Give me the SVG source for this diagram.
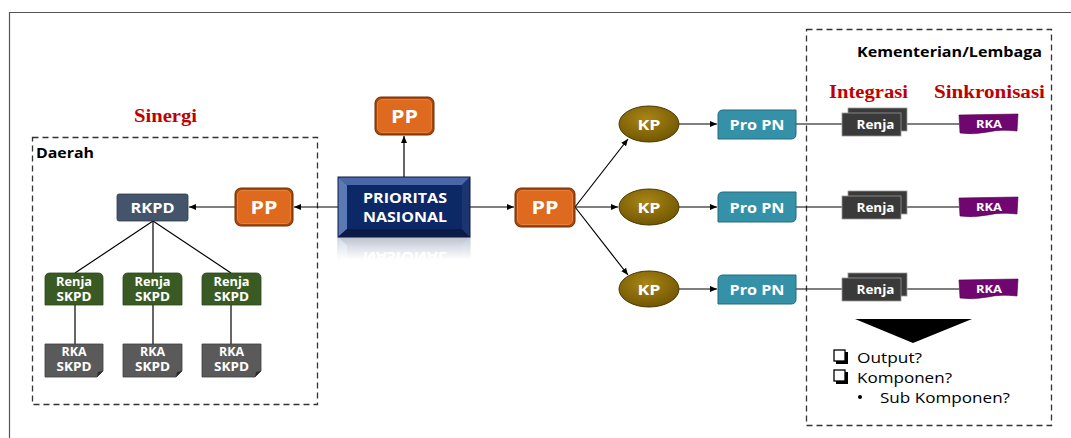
<svg xmlns="http://www.w3.org/2000/svg" xmlns:xlink="http://www.w3.org/1999/xlink" width="1071" height="438" viewBox="0 0 1071 438">
<style>
.lbl{font-family:"Open Sans","DejaVu Sans",sans-serif;font-weight:bold;fill:#fff;text-anchor:middle}
.red{font-family:"Liberation Serif","DejaVu Serif",serif;font-weight:bold;fill:#c00000}
.blk{font-family:"Open Sans","DejaVu Sans",sans-serif;fill:#000}
.dash{fill:none;stroke:#333;stroke-width:1.3;stroke-dasharray:6,4}
.ln{stroke:#000;stroke-width:1.2;fill:none}
.arr{stroke:#000;stroke-width:1.2;fill:none;marker-end:url(#ah)}
.pp-o{fill:#a8470c;stroke:#6e2e05;stroke-width:1}
.pp-i{fill:#dd6a1f;stroke:#f08a45;stroke-width:0.8}
.renja{fill:#3a5a24;stroke:#2b441a;stroke-width:0.8}
.rkas{fill:#5a5a5a;stroke:#3c3c3c;stroke-width:0.8}
.kp{fill:url(#kpg);stroke:#4a3a00;stroke-width:1}
.pro{fill:#3591a8;stroke:#256a7c;stroke-width:1}
.rj{fill:#3a3a3a;stroke:#9a9a9a;stroke-width:0.8}
.rka{fill:#70066f;stroke:#4a004a;stroke-width:0.6}
.cb{fill:#fff;stroke:#000;stroke-width:1.3}
</style>
<defs>
<marker id="ah" markerWidth="8" markerHeight="8" refX="7" refY="4" orient="auto" markerUnits="userSpaceOnUse">
<path d="M0,1 L7,4 L0,7 Z" fill="#000"/>
</marker>
<radialGradient id="kpg" cx="0.45" cy="0.35" r="0.7">
<stop offset="0" stop-color="#a88516"/>
<stop offset="1" stop-color="#6e5400"/>
</radialGradient>
<linearGradient id="fade" gradientUnits="userSpaceOnUse" x1="0" y1="237" x2="0" y2="260">
<stop offset="0" stop-color="#fff" stop-opacity="0.45"/>
<stop offset="1" stop-color="#fff" stop-opacity="0"/>
</linearGradient>
<mask id="reflmask" maskUnits="userSpaceOnUse" x="330" y="237" width="150" height="25">
<rect x="330" y="237" width="150" height="25" fill="url(#fade)"/>
</mask>
</defs>
<rect width="1071" height="438" fill="#fff"/>
<path d="M9.5,438 V12.5 H1071" fill="none" stroke="#555" stroke-width="1.2"/>

<g id="daerah">
<rect class="dash" x="32.5" y="137.5" width="285" height="267"/>
<text class="blk" x="36" y="158" font-size="14.5" font-weight="bold" textLength="58" lengthAdjust="spacingAndGlyphs">Daerah</text>
<text class="red" x="134" y="122" font-size="18" textLength="63" lengthAdjust="spacingAndGlyphs">Sinergi</text>
</g>
<g id="kl">
<rect class="dash" x="806.5" y="29.5" width="245" height="396"/>
<text class="blk" x="857" y="57" font-size="15" font-weight="bold" textLength="185" lengthAdjust="spacingAndGlyphs">Kementerian/Lembaga</text>
<text class="red" x="829" y="98" font-size="18" textLength="79" lengthAdjust="spacingAndGlyphs">Integrasi</text>
<text class="red" x="934" y="98" font-size="18" textLength="111" lengthAdjust="spacingAndGlyphs">Sinkronisasi</text>
</g>

<g id="connectors">
<line class="arr" x1="340" y1="207" x2="294" y2="207"/>
<line class="arr" x1="235" y1="207" x2="189" y2="207"/>
<line class="arr" x1="404" y1="177" x2="404" y2="136"/>
<line class="arr" x1="470" y1="207" x2="514" y2="207"/>
<line class="arr" x1="575" y1="207" x2="628" y2="139"/>
<line class="arr" x1="575" y1="207" x2="618" y2="207"/>
<line class="arr" x1="575" y1="207" x2="628" y2="275"/>
<line class="arr" x1="679" y1="124" x2="717" y2="124"/>
<line class="arr" x1="679" y1="207" x2="717" y2="207"/>
<line class="arr" x1="679" y1="289" x2="717" y2="289"/>
<line class="ln" x1="153" y1="221" x2="75" y2="273"/>
<line class="ln" x1="153" y1="221" x2="153" y2="273"/>
<line class="ln" x1="153" y1="221" x2="231" y2="273"/>
<line class="ln" x1="75" y1="305" x2="75" y2="344"/>
<line class="ln" x1="153" y1="305" x2="153" y2="344"/>
<line class="ln" x1="231" y1="305" x2="231" y2="344"/>
<line class="ln" x1="796" y1="124" x2="842" y2="124"/>
<line class="ln" x1="796" y1="207" x2="842" y2="207"/>
<line class="ln" x1="796" y1="289" x2="842" y2="289"/>
<line class="ln" x1="901" y1="124" x2="959" y2="124"/>
<line class="ln" x1="901" y1="207" x2="959" y2="207"/>
<line class="ln" x1="901" y1="289" x2="959" y2="289"/>
</g>

<g id="pn">
<g id="pn-box">
<rect x="338" y="177" width="132" height="60" fill="#14306e"/>
<polygon points="338,177 470,177 462,185 347,185" fill="#4a68a8"/>
<polygon points="338,177 347,185 347,229 338,237" fill="#5b79b5"/>
<polygon points="338,237 347,229 462,229 470,237" fill="#0a1b45"/>
<polygon points="470,177 470,237 462,229 462,185" fill="#1c3470"/>
<rect x="347" y="185" width="115" height="44" fill="#0d2866"/>
<rect x="338" y="177" width="132" height="60" fill="none" stroke="#0a1b45" stroke-width="1"/>
<text class="lbl" x="405" y="203" font-size="14.5" textLength="84" lengthAdjust="spacingAndGlyphs">PRIORITAS</text>
<text class="lbl" x="405" y="222" font-size="14.5" textLength="84" lengthAdjust="spacingAndGlyphs">NASIONAL</text>
</g>
<g mask="url(#reflmask)">
<use xlink:href="#pn-box" transform="translate(0,474) scale(1,-1)" opacity="0.6"/>
</g>
</g>

<g id="pp-top">
<rect class="pp-o" x="375" y="97" width="59" height="38" rx="6"/>
<rect class="pp-i" x="377.5" y="99.5" width="54" height="33" rx="4.5"/>
<text class="lbl" x="404.5" y="123" font-size="17.5" textLength="27" lengthAdjust="spacingAndGlyphs">PP</text>
</g>
<g id="pp-left">
<rect class="pp-o" x="235" y="188" width="58" height="38" rx="6"/>
<rect class="pp-i" x="237.5" y="190.5" width="53" height="33" rx="4.5"/>
<text class="lbl" x="264" y="214" font-size="17.5" textLength="27" lengthAdjust="spacingAndGlyphs">PP</text>
</g>
<g id="pp-right">
<rect class="pp-o" x="515" y="188" width="60" height="39" rx="6"/>
<rect class="pp-i" x="517.5" y="190.5" width="55" height="34" rx="4.5"/>
<text class="lbl" x="545" y="214" font-size="17.5" textLength="27" lengthAdjust="spacingAndGlyphs">PP</text>
</g>

<g id="rkpd">
<rect x="117" y="194" width="71" height="27" rx="2" fill="#44546a" stroke="#2f3b4c" stroke-width="0.8"/>
<text class="lbl" x="152.5" y="213" font-size="14" textLength="44" lengthAdjust="spacingAndGlyphs">RKPD</text>
</g>

<g id="renja-skpd-1">
<path class="renja" d="M45,305 V278 Q45,273 50,273 H98 Q103,273 103,278 V305 Z"/>
<text class="lbl" x="74" y="286" font-size="11.5" textLength="36" lengthAdjust="spacingAndGlyphs">Renja</text>
<text class="lbl" x="74" y="301" font-size="11.5" textLength="35" lengthAdjust="spacingAndGlyphs">SKPD</text>
</g>
<g id="renja-skpd-2">
<path class="renja" d="M123,305 V278 Q123,273 128,273 H177 Q182,273 182,278 V305 Z"/>
<text class="lbl" x="152.5" y="286" font-size="11.5" textLength="36" lengthAdjust="spacingAndGlyphs">Renja</text>
<text class="lbl" x="152.5" y="301" font-size="11.5" textLength="35" lengthAdjust="spacingAndGlyphs">SKPD</text>
</g>
<g id="renja-skpd-3">
<path class="renja" d="M202,305 V278 Q202,273 207,273 H256 Q261,273 261,278 V305 Z"/>
<text class="lbl" x="231.5" y="286" font-size="11.5" textLength="36" lengthAdjust="spacingAndGlyphs">Renja</text>
<text class="lbl" x="231.5" y="301" font-size="11.5" textLength="35" lengthAdjust="spacingAndGlyphs">SKPD</text>
</g>

<g id="rka-skpd-1">
<path class="rkas" d="M45,344 H103 V371 L97,377 H45 Z"/>
<path d="M97,377 L98,372 L103,371" fill="#2a2a2a"/>
<text class="lbl" x="74" y="356" font-size="11.5" textLength="25" lengthAdjust="spacingAndGlyphs">RKA</text>
<text class="lbl" x="74" y="371" font-size="11.5" textLength="35" lengthAdjust="spacingAndGlyphs">SKPD</text>
</g>
<g id="rka-skpd-2">
<path class="rkas" d="M123,344 H182 V371 L176,377 H123 Z"/>
<path d="M176,377 L177,372 L182,371" fill="#2a2a2a"/>
<text class="lbl" x="152.5" y="356" font-size="11.5" textLength="25" lengthAdjust="spacingAndGlyphs">RKA</text>
<text class="lbl" x="152.5" y="371" font-size="11.5" textLength="35" lengthAdjust="spacingAndGlyphs">SKPD</text>
</g>
<g id="rka-skpd-3">
<path class="rkas" d="M202,344 H261 V371 L255,377 H202 Z"/>
<path d="M255,377 L256,372 L261,371" fill="#2a2a2a"/>
<text class="lbl" x="231.5" y="356" font-size="11.5" textLength="25" lengthAdjust="spacingAndGlyphs">RKA</text>
<text class="lbl" x="231.5" y="371" font-size="11.5" textLength="35" lengthAdjust="spacingAndGlyphs">SKPD</text>
</g>

<g id="kp-1"><ellipse class="kp" cx="649" cy="124" rx="30" ry="18"/><text class="lbl" x="649" y="130" font-size="15" textLength="23" lengthAdjust="spacingAndGlyphs">KP</text></g>
<g id="kp-2"><ellipse class="kp" cx="649" cy="207" rx="30" ry="18"/><text class="lbl" x="649" y="213" font-size="15" textLength="23" lengthAdjust="spacingAndGlyphs">KP</text></g>
<g id="kp-3"><ellipse class="kp" cx="649" cy="289" rx="30" ry="18"/><text class="lbl" x="649" y="295" font-size="15" textLength="23" lengthAdjust="spacingAndGlyphs">KP</text></g>

<g id="propn-1"><path class="pro" d="M718,139 V115 Q718,110 723,110 H796 V134 Q796,139 791,139 Z"/><text class="lbl" x="757" y="130" font-size="14.5" textLength="55" lengthAdjust="spacingAndGlyphs">Pro PN</text></g>
<g id="propn-2"><path class="pro" d="M718,222 V197 Q718,192 723,192 H796 V217 Q796,222 791,222 Z"/><text class="lbl" x="757" y="212.5" font-size="14.5" textLength="55" lengthAdjust="spacingAndGlyphs">Pro PN</text></g>
<g id="propn-3"><path class="pro" d="M718,304 V280 Q718,275 723,275 H796 V299 Q796,304 791,304 Z"/><text class="lbl" x="757" y="295" font-size="14.5" textLength="55" lengthAdjust="spacingAndGlyphs">Pro PN</text></g>

<g id="renja-1">
<rect class="rj" x="848" y="108" width="59" height="23"/>
<rect class="rj" x="842" y="113" width="59" height="23"/>
<text class="lbl" x="875.5" y="129" font-size="11.5" textLength="38" lengthAdjust="spacingAndGlyphs">Renja</text>
</g>
<g id="renja-2">
<rect class="rj" x="848" y="191" width="59" height="23"/>
<rect class="rj" x="842" y="196" width="59" height="23"/>
<text class="lbl" x="875.5" y="212" font-size="11.5" textLength="38" lengthAdjust="spacingAndGlyphs">Renja</text>
</g>
<g id="renja-3">
<rect class="rj" x="848" y="273" width="59" height="23"/>
<rect class="rj" x="842" y="278" width="59" height="23"/>
<text class="lbl" x="875.5" y="294" font-size="11.5" textLength="38" lengthAdjust="spacingAndGlyphs">Renja</text>
</g>

<g id="rka-1"><path class="rka" d="M959,115 L1018,114 L1017,131 Q1000,129 988,132 Q973,135 960,133 Z"/><text class="lbl" x="989" y="127.5" font-size="11" textLength="26" lengthAdjust="spacingAndGlyphs">RKA</text></g>
<g id="rka-2"><path class="rka" d="M959,198 L1018,197 L1017,214 Q1000,212 988,215 Q973,218 960,216 Z"/><text class="lbl" x="989" y="210.5" font-size="11" textLength="26" lengthAdjust="spacingAndGlyphs">RKA</text></g>
<g id="rka-3"><path class="rka" d="M959,280 L1018,279 L1017,296 Q1000,294 988,297 Q973,300 960,298 Z"/><text class="lbl" x="989" y="292.5" font-size="11" textLength="26" lengthAdjust="spacingAndGlyphs">RKA</text></g>

<g id="summary">
<polygon points="855,319 972,319 913,343" fill="#000"/>
<rect x="836" y="352" width="12" height="12" fill="#000"/>
<rect class="cb" x="834" y="350" width="11" height="11"/>
<rect x="836" y="372" width="12" height="12" fill="#000"/>
<rect class="cb" x="834" y="370" width="11" height="11"/>
<text class="blk" x="857" y="363" font-size="14.5" textLength="65" lengthAdjust="spacingAndGlyphs">Output?</text>
<text class="blk" x="857" y="382.5" font-size="14.5" textLength="95" lengthAdjust="spacingAndGlyphs">Komponen?</text>
<circle cx="860" cy="397" r="2" fill="#000"/>
<text class="blk" x="880" y="402.5" font-size="14.5" textLength="130" lengthAdjust="spacingAndGlyphs">Sub Komponen?</text>
</g>
</svg>
